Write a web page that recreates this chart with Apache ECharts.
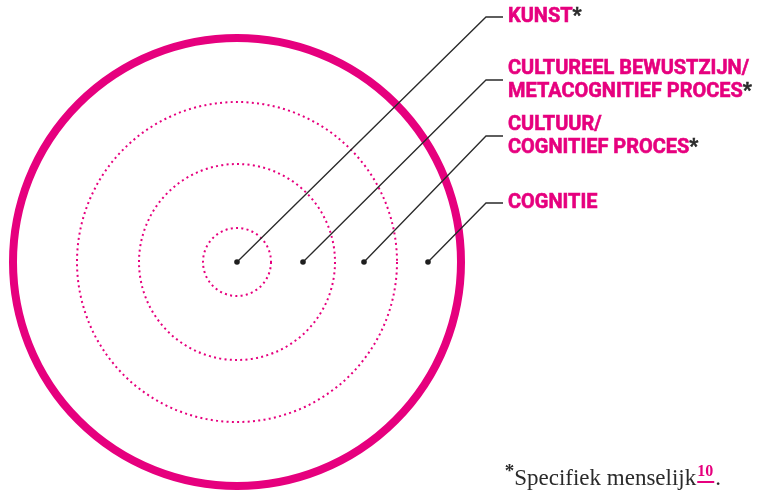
<!DOCTYPE html>
<html><head><meta charset="utf-8">
<script src="https://cdn.jsdelivr.net/npm/echarts@6/dist/echarts.min.js"></script>
<style>html,body{margin:0;padding:0;background:#fff}#c{width:761px;height:493px}</style>
</head><body><div id="c"></div>
<script>
// ---- data ----
const ringRadii = [34, 98, 160, 224];
const ringDotted = [true, true, true, false];
const labelNames = ['KUNST', 'CULTUREEL BEWUSTZIJN/\nMETACOGNITIEF PROCES', 'CULTUUR/\nCOGNITIEF PROCES', 'COGNITIE'];
const labelStar = [true, true, true, false];
const dotDistance = [0, 66, 127, 191];
const labelHeight = [245, 182, 126, 59];
const footnoteText = 'Specifiek menselijk';
const footnoteRef = '10';

// ---- style ----
const MAGENTA = '#e6007e';
const DARK = '#2a2a2a';
const SANS = 'Roboto, "DejaVu Sans", sans-serif';
const SERIF = '"Liberation Serif", "DejaVu Serif", serif';
const ELBOW_X = 249, LINE_END_X = 266;

const chart = echarts.init(document.getElementById('c'), null, {renderer: 'canvas'});

function labelText(i) {
  const lines = labelNames[i].split('\n');
  return lines.map(l => '{m|' + l + '}').join('\n') + (labelStar[i] ? '{a|*}' : '');
}

// measure for footnote underline
const mctx = document.createElement('canvas').getContext('2d');
function tw(font, s) { mctx.font = font; return mctx.measureText(s).width; }
const FN_SIZE = 23, SUP_SIZE = 16;
const fnRight = 721, fnBottom = 490;
const wDot = tw(FN_SIZE + 'px ' + SERIF, '.');
const wSup = tw('bold ' + SUP_SIZE + 'px ' + SERIF, footnoteRef);

const option = {
  backgroundColor: '#ffffff',
  animation: false,
  grid: {left: 0, right: 0, top: 0, bottom: 0},
  xAxis: {type: 'value', min: -237, max: 524, show: false},
  yAxis: {type: 'value', min: -231, max: 262, show: false},
  series: [
    {
      type: 'custom',
      clip: false,
      z: 1,
      data: ringRadii.map((r, i) => [r, ringDotted[i] ? 1 : 0]),
      renderItem: function (params, api) {
        const r = api.value(0);
        const dotted = api.value(1) === 1;
        const c = api.coord([0, 0]);
        const pr = api.size([r, 0])[0];
        return {
          type: 'circle',
          shape: {cx: c[0], cy: c[1], r: pr},
          style: dotted
            ? {fill: null, stroke: MAGENTA, lineWidth: 2, lineDash: [2, 3.3]}
            : {fill: null, stroke: MAGENTA, lineWidth: 8}
        };
      }
    },
    {
      type: 'custom',
      clip: false,
      z: 2,
      data: dotDistance.map((d, i) => [d, labelHeight[i]]),
      renderItem: function (params, api) {
        const i = params.dataIndex;
        const d = api.value(0), h = api.value(1);
        const p0 = api.coord([d, 0]);
        const p1 = api.coord([ELBOW_X, h]);
        const p2 = api.coord([LINE_END_X, h]);
        return {
          type: 'group',
          children: [
            {type: 'polyline', shape: {points: [p0, p1, p2]}, style: {fill: null, stroke: DARK, lineWidth: 1.3}},
            {type: 'circle', shape: {cx: p0[0], cy: p0[1], r: 2.8}, style: {fill: '#1e1e1e'}},
            {
              type: 'text', x: p2[0] + 5, y: p2[1], scaleX: 0.95,
              style: {
                text: labelText(i),
                align: 'left',
                verticalAlign: 'middle',
                rich: {
                  m: {fontFamily: SANS, fontWeight: 'bold', fontSize: 21, lineHeight: 23, fill: MAGENTA, stroke: MAGENTA, lineWidth: 0.6},
                  a: {fontFamily: SANS, fontWeight: 'bold', fontSize: 21, lineHeight: 23, fill: DARK, stroke: DARK, lineWidth: 0.6}
                }
              }
            }
          ]
        };
      }
    }
  ],
  graphic: [
    {
      type: 'text',
      x: fnRight, y: fnBottom,
      style: {
        text: '{a|*}{t|' + footnoteText + '}{s|' + footnoteRef + '}{t|.}',
        align: 'right',
        verticalAlign: 'bottom',
        rich: {
          a: {fontFamily: SERIF, fontWeight: 'bold', fontSize: 19, fill: DARK, verticalAlign: 'top', lineHeight: 27},
          t: {fontFamily: SERIF, fontSize: FN_SIZE, fill: DARK, verticalAlign: 'bottom', lineHeight: 27},
          s: {fontFamily: SERIF, fontWeight: 'bold', fontSize: SUP_SIZE, fill: MAGENTA, verticalAlign: 'top', lineHeight: 27, padding: [1, 2, 0, 1]}
        }
      }
    },
    {
      type: 'line',
      shape: {x1: fnRight - wDot - wSup - 2, y1: 482, x2: fnRight - wDot - 1, y2: 482},
      style: {stroke: MAGENTA, lineWidth: 2}
    }
  ]
};
chart.setOption(option);
</script>
</body></html>
